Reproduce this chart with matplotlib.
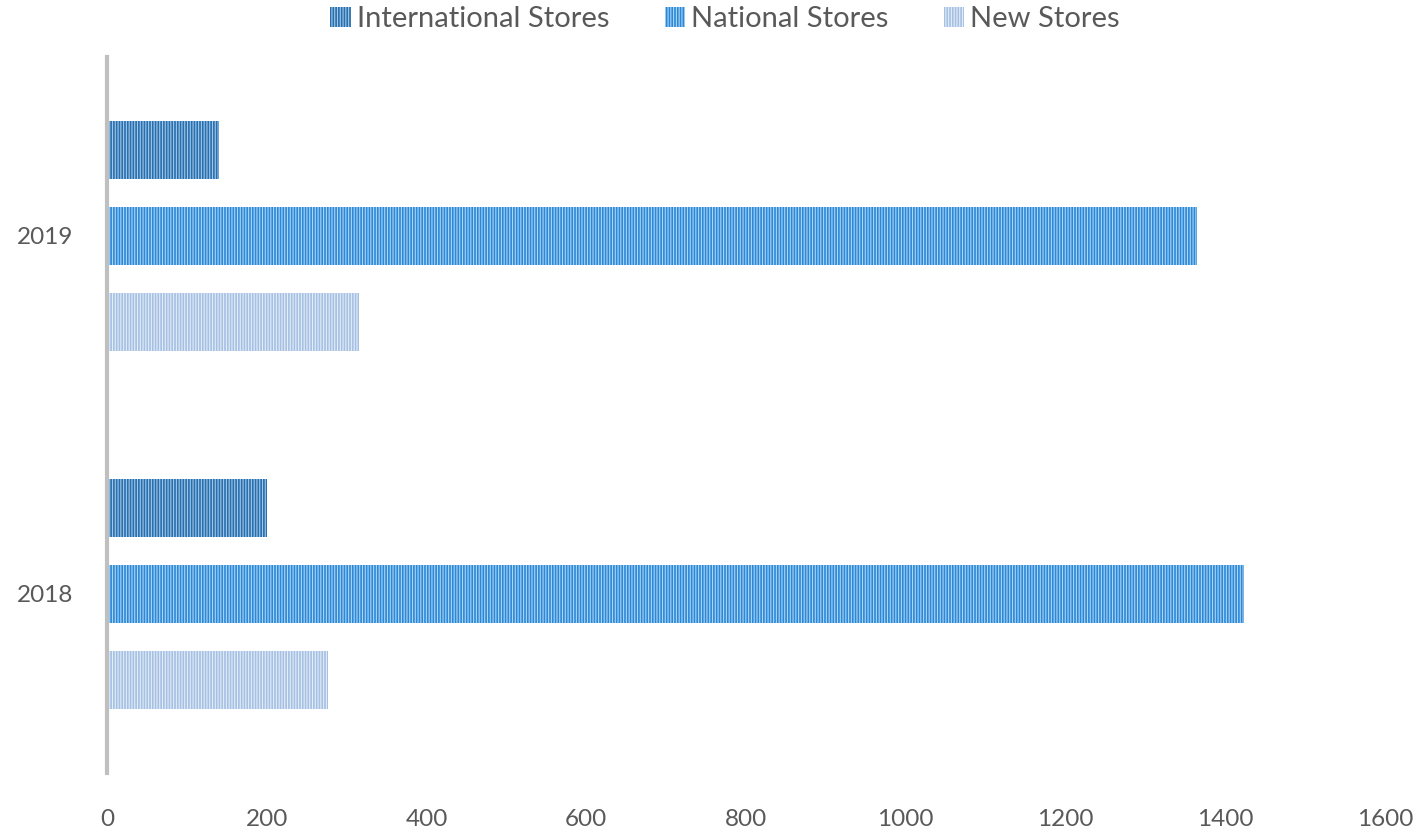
import matplotlib.pyplot as plt
import numpy as np

plt.rcParams['font.family'] = ['Lato', 'DejaVu Sans']
plt.rcParams['hatch.linewidth'] = 0.8

years = ["2018", "2019"]
series = ["International Stores", "National Stores", "New Stores"]
international = [200, 140]
national = [1423, 1365]
new_stores = [277, 315]

face = ["#2a6fad", "#2c88d6", "#a5c0e3"]
stripe = ["#a0c8ea", "#acd6f6", "#e4edf8"]

fig = plt.figure(figsize=(14.22, 8.36), dpi=100)
ax = fig.add_axes([107 / 1422, 1 - 773 / 836, 1278 / 1422, 716 / 836])

y = np.arange(len(years))
h = 0.162
off = 0.24
for i, (vals, name) in enumerate(zip([international, national, new_stores], series)):
    ax.barh(y + off * (1 - i), vals, height=h, color=face[i], edgecolor=stripe[i],
            hatch='||||||', linewidth=0, label=name)

ax.set_xlim(0, 1600)
ax.set_ylim(-0.5, 1.5)
ax.set_xticks(range(0, 1601, 200))
ax.set_yticks(y)
ax.set_yticklabels(years)
for s in ['top', 'right', 'bottom']:
    ax.spines[s].set_visible(False)
ax.spines['left'].set_color('#bfbfbf')
ax.spines['left'].set_linewidth(3)
ax.tick_params(axis='both', length=0, labelsize=17.5, colors='#595959')
ax.tick_params(axis='x', pad=26)
ax.tick_params(axis='y', pad=24)

ax.legend(loc='upper center', bbox_to_anchor=(725 / 1422, 1.01), bbox_transform=fig.transFigure,
          ncol=3, frameon=False, fontsize=21, handlelength=0.7, handleheight=0.7,
          handletextpad=0.2, columnspacing=1.9, labelcolor='#595959', borderaxespad=0.1)

fig.savefig("out.png", dpi=100)
